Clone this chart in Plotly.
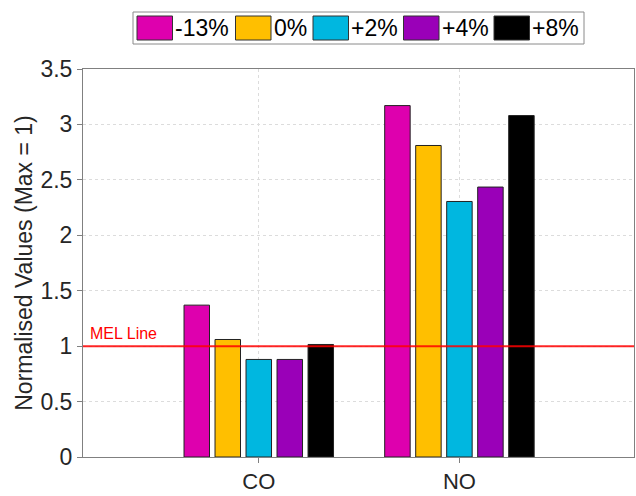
import plotly.graph_objects as go

categories = ["CO", "NO"]
series_names = ["-13%", "0%", "+2%", "+4%", "+8%"]
series_colors = ["#DE00AE", "#FFBF00", "#00B7E0", "#9A00B8", "#000000"]
values = {
    "-13%": [1.37, 3.17],
    "0%": [1.06, 2.81],
    "+2%": [0.88, 2.305],
    "+4%": [0.88, 2.435],
    "+8%": [1.015, 3.08],
}
mel_value = 1.0
yticks = [0, 0.5, 1, 1.5, 2, 2.5, 3, 3.5]

FONT = "Arial, Liberation Sans, sans-serif"
x_pos = [1, 2]

W, H = 636, 496
L, R, T, B = 83, 2, 69, 39
PW, PH = W - L - R, H - T - B

fig = go.Figure()
for name, col in zip(series_names, series_colors):
    fig.add_trace(go.Bar(
        x=x_pos, y=values[name], name=name,
        marker=dict(color=col, line=dict(color="#222222", width=1)),
        showlegend=False,
    ))

fig.add_shape(type="line", xref="paper", x0=0, x1=1, yref="y", y0=mel_value, y1=mel_value,
              line=dict(color="rgba(255,0,0,0.85)", width=2), layer="above")
fig.add_annotation(xref="paper", x=(88 - L) / PW, yref="y", y=mel_value, text="MEL Line",
                   showarrow=False, xanchor="left", yanchor="bottom", yshift=2,
                   font=dict(family=FONT, size=16, color="#ff0000"))

# custom legend (built from series lists); pixel -> paper conversion
def px(x):
    return (x - L) / PW
def py(y):
    return (H - B - y) / PH

fig.add_shape(type="rect", xref="paper", yref="paper",
              x0=px(133), x1=px(584), y0=py(44), y1=py(12),
              line=dict(color="#8a8a8a", width=1), fillcolor="white", layer="above")
sw_x = [137, 235.5, 313, 403.5, 494]
for sx, name, col in zip(sw_x, series_names, series_colors):
    fig.add_shape(type="rect", xref="paper", yref="paper",
                  x0=px(sx), x1=px(sx + 35.5), y0=py(40), y1=py(16),
                  line=dict(color="#333333", width=1), fillcolor=col, layer="above")
    fig.add_annotation(xref="paper", yref="paper", x=px(sx + 36), y=py(28),
                       text=name, showarrow=False, xanchor="left", yanchor="middle",
                       font=dict(family=FONT, size=23, color="#000000"))

fig.update_layout(
    width=W, height=H,
    margin=dict(l=L, r=R, t=T, b=B),
    paper_bgcolor="white", plot_bgcolor="white",
    barmode="group", bargap=0.2275, bargroupgap=0.178,
    font=dict(family=FONT, size=23, color="#262626"),
    xaxis=dict(
        range=[0.124, 2.87], tickvals=x_pos, ticktext=categories,
        showgrid=True, gridcolor="#dcdcdc", griddash="dot", gridwidth=1,
        showline=True, linecolor="#808080", linewidth=1, mirror=True,
        ticks="outside", ticklen=5, tickcolor="#808080",
        tickfont=dict(size=22, color="#262626"), zeroline=False,
    ),
    yaxis=dict(
        range=[0, 3.5], tickvals=yticks, ticktext=[f"{v:g}" for v in yticks],
        showgrid=True, gridcolor="#dcdcdc", griddash="dot", gridwidth=1,
        showline=True, linecolor="#808080", linewidth=1, mirror=True,
        ticks="outside", ticklen=5, tickcolor="#808080",
        tickfont=dict(size=23, color="#262626"), zeroline=False,
        title=dict(text="Normalised Values (Max = 1)", font=dict(size=23, color="#262626"), standoff=1),
    ),
)

fig.write_html("out.html")
